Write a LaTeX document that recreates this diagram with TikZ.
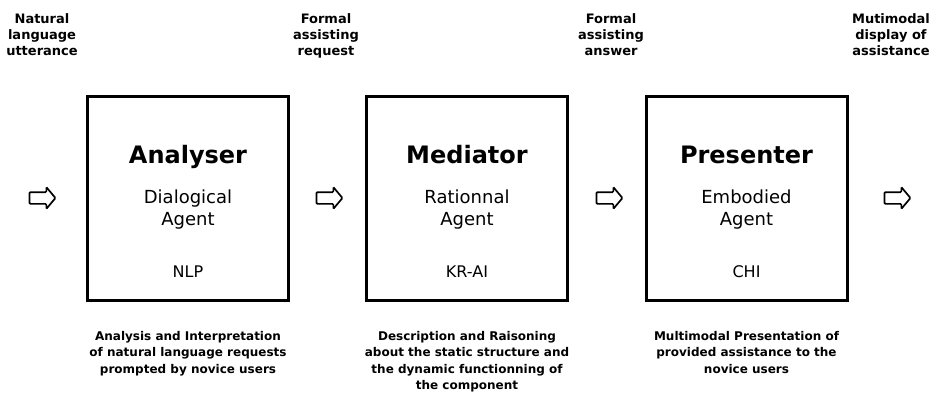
\documentclass[tikz,border=0pt]{standalone}
\usepackage{fontspec}
\setmainfont{DejaVu Sans}
\usetikzlibrary{positioning, shapes.arrows}

\begin{document}
\begin{tikzpicture}[%
  x = 1pt, y = -1pt,
  agent/.style =     {rectangle, draw, line width=3pt,
                      minimum width=201pt, minimum height=204pt,
                      inner sep=0pt},
  flow/.style =      {single arrow, draw, line width=1.7pt,
                      minimum height=26pt, inner xsep=0pt,
                      inner ysep=5pt, single arrow head extend=5pt,
                      single arrow tip angle=100, rounded corners=1pt},
  title/.style =     {font=\fontsize{24}{28}\selectfont\bfseries,
                      anchor=base},
  role/.style =      {font=\fontsize{18}{22}\selectfont, align=center,
                      anchor=north, inner sep=0pt},
  field/.style =     {font=\fontsize{16}{18}\selectfont, anchor=base},
  note/.style =      {font=\fontsize{12}{16.5}\selectfont\bfseries,
                      align=center, inner sep=0pt},
  flowlabel/.style = {font=\fontsize{13}{16}\selectfont\bfseries,
                      align=center, anchor=north, inner sep=0pt}
]

  \useasboundingbox (0,0) rectangle (931,396);

  % the three agents
  \node[agent] (ana) at (188,198.5) {};
  \node[agent] (med) at (467,198.5) {};
  \node[agent] (pre) at (746.5,198.5) {};

  \node[title] (anaT) at (188,163) {Analyser};
  \node[role]  (anaR) at (188,190) {Dialogical\\Agent};
  \node[field] (anaF) at (188,277) {NLP};

  \node[title] (medT) at (467,163) {Mediator};
  \node[role]  (medR) at (467,190) {Rationnal\\Agent};
  \node[field] (medF) at (467,277) {KR-AI};

  \node[title] (preT) at (746.5,163) {Presenter};
  \node[role]  (preR) at (746.5,190) {Embodied\\Agent};
  \node[field] (preF) at (746.5,277) {CHI};

  % flow between the agents
  \node[flow] (f1) at (40,198) {};
  \node[flow] (f2) at (327,198) {};
  \node[flow] (f3) at (607,198) {};
  \node[flow] (f4) at (895,198) {};

  \node[flowlabel] (l1) at (42,13)  {Natural\\language\\utterance};
  \node[flowlabel] (l2) at (326,13) {Formal\\assisting\\request};
  \node[flowlabel] (l3) at (611,13) {Formal\\assisting\\answer};
  \node[flowlabel] (l4) at (891,13) {Mutimodal\\display of\\assistance};

  % descriptions
  \node[note, below=29pt of ana] (anaD)
       {Analysis and Interpretation\\of natural language requests\\
        prompted by novice users};
  \node[note, below=29pt of med] (medD)
       {Description and Raisoning\\about the static structure and\\
        the dynamic functionning of\\the component};
  \node[note, below=29pt of pre] (preD)
       {Multimodal Presentation of\\provided assistance to the\\
        novice users};

\end{tikzpicture}
\end{document}
